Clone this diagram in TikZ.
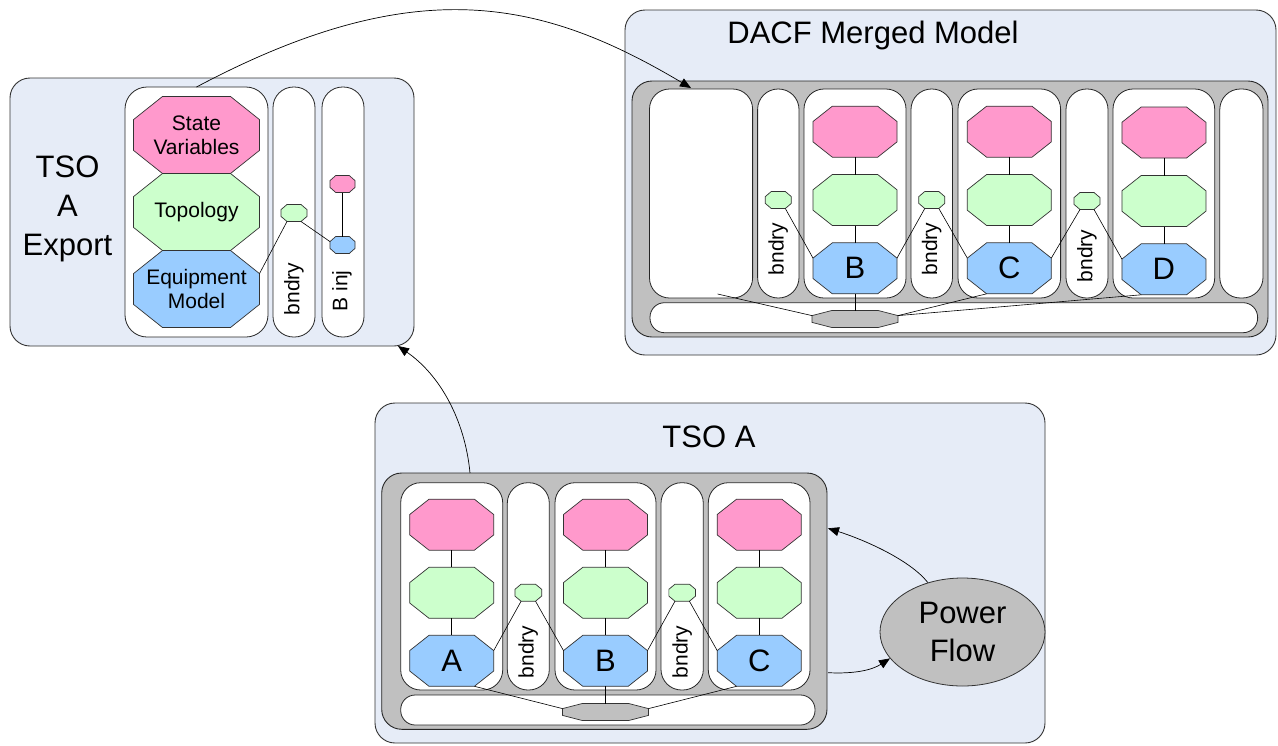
\documentclass[tikz,border=0pt]{standalone}
\usepackage{fontspec}
\setmainfont{Liberation Sans}
\usetikzlibrary{arrows.meta,shapes.geometric,calc}

\definecolor{panelbg}{HTML}{E6ECF7}
\definecolor{svpink}{HTML}{FF99CC}
\definecolor{topgreen}{HTML}{CCFFCC}
\definecolor{eqblue}{HTML}{99CCFF}
\definecolor{midgray}{HTML}{C0C0C0}

\tikzset{
  panel/.style={draw=black!80, fill=panelbg, rounded corners=20pt, line width=0.9pt},
  container/.style={draw=black!85, fill=midgray, rounded corners=20pt, line width=0.9pt},
  area/.style={draw=black!85, fill=white, rounded corners=20pt, line width=0.8pt},
  pill/.style={draw=black!85, fill=white, rounded corners=20.5pt, line width=0.8pt},
  bar/.style={draw=black!85, fill=white, rounded corners=14.5pt, line width=0.8pt},
  octline/.style={draw=black!80, line width=0.7pt},
  link/.style={draw=black, line width=0.6pt},
  flow/.style={draw=black, line width=0.7pt, -{Triangle[length=11pt,width=9pt]}},
  bigtxt/.style={font=\fontsize{31}{38}\selectfont, align=center},
  smalltxt/.style={font=\fontsize{21}{24}\selectfont, align=center},
}

% rounded box as a named node: style, name, x1, y1, x2, y2
\newcommand\panelbox[6]{%
  \node[#1, inner sep=0pt, outer sep=0pt,
        minimum width={(#5)-(#3)}, minimum height={(#6)-(#4)}]
    (#2) at ({((#3)+(#5))/2},{((#4)+(#6))/2}) {};}

% stretched octagon: [text style] fill, name, x, y, width, height, text
\newcommand\octa[8][]{%
  \coordinate (#3-tl) at ({#4-0.27*#6},{#5-0.5*#7});
  \coordinate (#3-tr) at ({#4+0.27*#6},{#5-0.5*#7});
  \coordinate (#3-rt) at ({#4+0.5*#6},{#5-0.2*#7});
  \coordinate (#3-rb) at ({#4+0.5*#6},{#5+0.2*#7});
  \coordinate (#3-br) at ({#4+0.27*#6},{#5+0.5*#7});
  \coordinate (#3-bl) at ({#4-0.27*#6},{#5+0.5*#7});
  \coordinate (#3-lb) at ({#4-0.5*#6},{#5+0.2*#7});
  \coordinate (#3-lt) at ({#4-0.5*#6},{#5-0.2*#7});
  \draw[octline, fill=#2] (#3-tl) -- (#3-tr) -- (#3-rt) -- (#3-rb) -- (#3-br)
     -- (#3-bl) -- (#3-lb) -- (#3-lt) -- cycle;
  \node[inner sep=0pt, outer sep=0pt, minimum width=#6, minimum height=#7, #1]
    (#3) at (#4,#5) {#8};}

\begin{document}
\begin{tikzpicture}[x=1pt,y=-1pt]
\useasboundingbox[fill=white] (0,0) rectangle (1278,745);

% ---------------- TSO A export ----------------
\panelbox{panel}{expouter}{10}{78}{414}{346}
\panelbox{area, rounded corners=22pt}{expmain}{125}{87}{268}{337}
\panelbox{pill}{expbnd}{273}{87}{315}{337}
\panelbox{pill}{expinj}{322}{87}{364}{337}
\node[bigtxt, font=\fontsize{31}{39}\selectfont] (exptitle) at (67.5,209) {TSO\\A\\Export};

\octa[smalltxt]{svpink}{expsv}{196.5}{135}{126}{77}{State\\Variables}
\octa[smalltxt]{topgreen}{exptp}{196.5}{212}{126}{77}{Topology}
\octa[smalltxt]{eqblue}{expeq}{196.5}{289}{126}{77}{Equipment\\Model}
\octa{topgreen}{expbg}{294}{213}{26}{17}{}
\octa{svpink}{expinjsv}{342.5}{184}{25}{17}{}
\octa{eqblue}{expinjeq}{342.5}{245}{25}{17}{}
\node[smalltxt, rotate=90] (expbndtxt) at (294,289) {bndry};
\node[smalltxt, rotate=90] (expinjtxt) at (342,291) {B inj};

\draw[link] (expinjsv.south) -- (expinjeq.north);
\draw[link] (expbg-bl) -- (expeq-rt);
\draw[link] (expbg-br) -- (expinjeq-lt);

% ---------------- DACF merged model ----------------
\panelbox{panel}{dacf}{625}{10}{1276}{355}
\node[bigtxt] (dacftitle) at (873,35) {DACF Merged Model};
\panelbox{container}{dgray}{632}{81}{1268}{337}
\panelbox{area}{dleft}{649.5}{89}{752.6}{298}
\panelbox{pill}{dbnd1}{757.6}{89}{799}{298}
\panelbox{area}{dpB}{804}{89}{906}{298}
\panelbox{pill}{dbnd2}{911}{89}{952.5}{298}
\panelbox{area}{dpC}{958}{89}{1060.6}{298}
\panelbox{pill}{dbnd3}{1066}{89}{1108}{298}
\panelbox{area}{dpD}{1113}{89}{1214.7}{298}
\panelbox{pill}{dright}{1219.8}{89}{1263}{298}
\panelbox{bar}{dbar}{650}{302.7}{1257.6}{332.7}

\octa{svpink}{dBsv}{855}{131.7}{84}{51}{}
\octa{topgreen}{dBtp}{855}{200}{84}{51}{}
\octa[bigtxt]{eqblue}{dBeq}{855}{268.3}{84}{51}{B}
\octa{svpink}{dCsv}{1009.3}{131.7}{84}{51}{}
\octa{topgreen}{dCtp}{1009.3}{200}{84}{51}{}
\octa[bigtxt]{eqblue}{dCeq}{1009.3}{268.3}{84}{51}{C}
\octa{svpink}{dDsv}{1163.9}{132.5}{84}{51}{}
\octa{topgreen}{dDtp}{1163.9}{201}{84}{51}{}
\octa[bigtxt]{eqblue}{dDeq}{1163.9}{269.3}{84}{51}{D}
\octa{topgreen}{dg1}{778.3}{200}{26}{17}{}
\octa{topgreen}{dg2}{931.8}{200}{26}{17}{}
\octa{topgreen}{dg3}{1087}{201}{26}{17}{}
\octa{midgray}{dhub}{855}{319}{86}{17}{}
\node[smalltxt, rotate=90] (dbt1) at (778.3,249) {bndry};
\node[smalltxt, rotate=90] (dbt2) at (931.8,249) {bndry};
\node[smalltxt, rotate=90] (dbt3) at (1087,256) {bndry};

\coordinate (dlink) at (717.6,294);
\foreach \c in {B,C,D}{
  \draw[link] (d\c sv.south) -- (d\c tp.north);
  \draw[link] (d\c tp.south) -- (d\c eq.north);
}
\draw[link] (dBeq.south) -- (dhub.north);
\draw[link] (dlink) -- (dhub-lt);
\draw[link] (dCeq-bl) -- (dhub-rt);
\draw[link] (dDeq-bl) -- (dhub-rt);
\draw[link] (dg1-br) -- (dBeq-lt);
\draw[link] (dg2-bl) -- (dBeq-rt);
\draw[link] (dg2-br) -- (dCeq-lt);
\draw[link] (dg3-bl) -- (dCeq-rt);
\draw[link] (dg3-br) -- (dDeq-lt);

% ---------------- TSO A ----------------
\panelbox{panel}{tso}{375}{403}{1045}{743}
\node[bigtxt] (tsotitle) at (709,437) {TSO A};
\panelbox{container}{tgray}{381.7}{473}{827}{729.3}
\panelbox{area}{tpA}{400.7}{482.7}{502.7}{690}
\panelbox{pill}{tbnd1}{507.3}{482.7}{549.3}{690}
\panelbox{area}{tpB}{555}{482.7}{656}{690}
\panelbox{pill}{tbnd2}{661}{482.7}{703.3}{690}
\panelbox{area}{tpC}{708.3}{482.7}{810}{690}
\panelbox{bar}{tbar}{400.7}{695}{815}{725}

\octa{svpink}{tAsv}{451.7}{524.7}{84}{51}{}
\octa{topgreen}{tAtp}{451.7}{592.8}{84}{51}{}
\octa[bigtxt]{eqblue}{tAeq}{451.7}{660.8}{84}{51}{A}
\octa{svpink}{tBsv}{605.5}{524.7}{84}{51}{}
\octa{topgreen}{tBtp}{605.5}{592.8}{84}{51}{}
\octa[bigtxt]{eqblue}{tBeq}{605.5}{660.8}{84}{51}{B}
\octa{svpink}{tCsv}{759.2}{524.7}{84}{51}{}
\octa{topgreen}{tCtp}{759.2}{592.8}{84}{51}{}
\octa[bigtxt]{eqblue}{tCeq}{759.2}{660.8}{84}{51}{C}
\octa{topgreen}{tg1}{528.3}{592.7}{26.7}{17}{}
\octa{topgreen}{tg2}{682.2}{592.7}{26.7}{17}{}
\octa{midgray}{thub}{605.5}{712}{86}{17}{}
\node[smalltxt, rotate=90] (tbt1) at (528.3,652) {bndry};
\node[smalltxt, rotate=90] (tbt2) at (682.2,652) {bndry};

\foreach \c in {A,B,C}{
  \draw[link] (t\c sv.south) -- (t\c tp.north);
  \draw[link] (t\c tp.south) -- (t\c eq.north);
}
\draw[link] (tBeq.south) -- (thub.north);
\draw[link] (tAeq-br) -- (thub-lt);
\draw[link] (tCeq-bl) -- (thub-rt);
\draw[link] (tg1-bl) -- (tAeq-rt);
\draw[link] (tg1-br) -- (tBeq-lt);
\draw[link] (tg2-bl) -- (tBeq-rt);
\draw[link] (tg2-br) -- (tCeq-lt);

\node[ellipse, draw=black!80, fill=midgray, line width=0.8pt, inner sep=0pt,
      minimum width=165pt, minimum height=108pt, bigtxt] (pf) at (962.5,632) {Power\\Flow};

% ---------------- flows between models ----------------
\coordinate (pfin) at (828,528.3);
\coordinate (pfout) at (828,672.7);
\coordinate (tsoup) at (470,473);
\coordinate (expin) at (398,346);
\coordinate (dacfin) at (691,88);

\draw[flow] (pf.125) .. controls (910,560) and (865,540) .. (pfin);
\draw[flow] (pfout) .. controls (855,674) and (872,670) .. (pf.200);
\draw[flow] (tsoup) .. controls (465,420) and (440,375) .. (expin);
\draw[flow] (expmain.north) .. controls (417,-30) and (543,0) .. (dacfin);
\end{tikzpicture}
\end{document}
